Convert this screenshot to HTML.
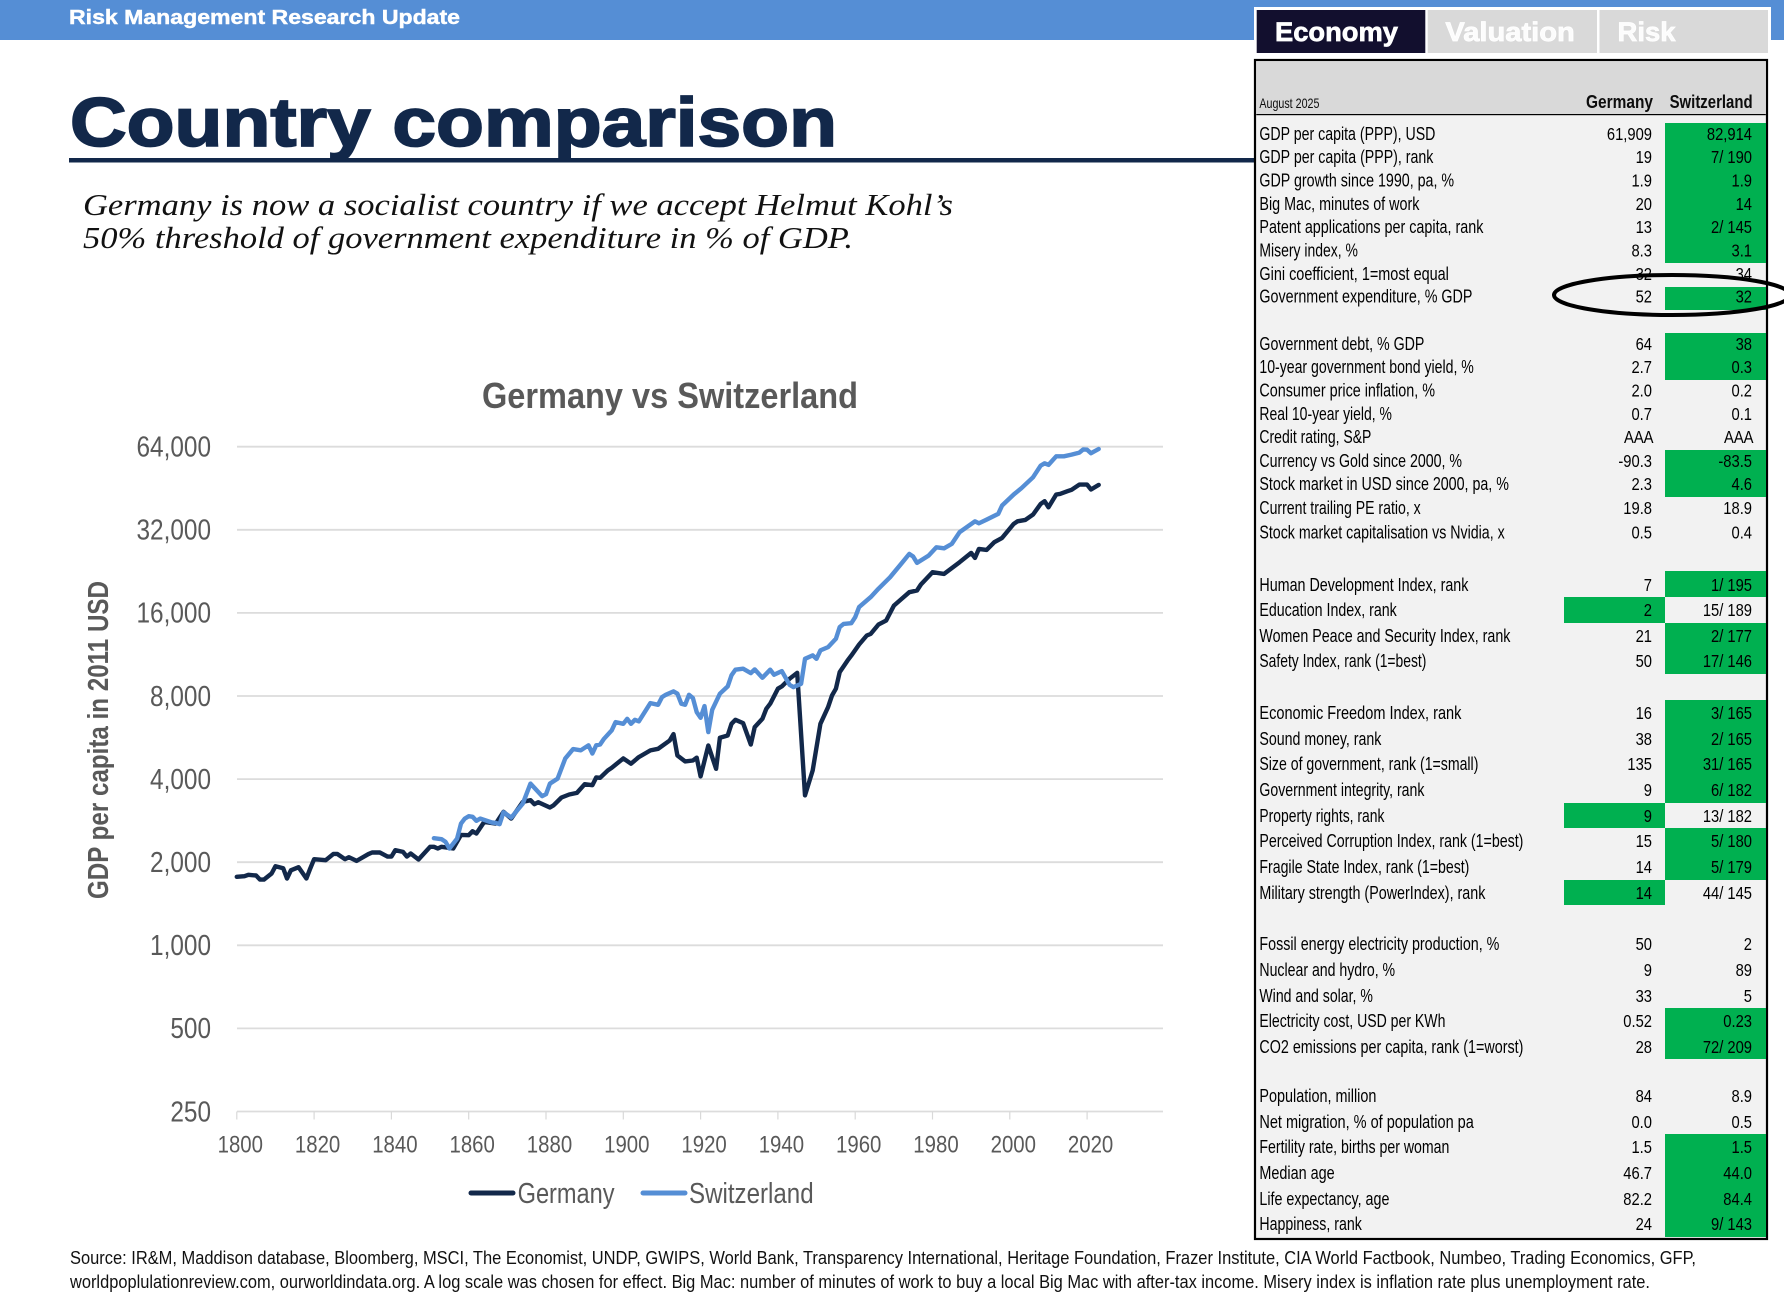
<!DOCTYPE html>
<html lang="en">
<head>
<meta charset="utf-8">
<title>Country comparison</title>
<style>
html,body{margin:0;padding:0;background:#fff;width:1784px;height:1301px;overflow:hidden}
svg{display:block}
text{font-family:"Liberation Sans",Arial,sans-serif}
.l{font-size:18px;fill:#000}
.v{font-size:18px;fill:#000;text-anchor:end;transform-box:fill-box;transform-origin:100% 50%;transform:scaleX(.82)}
.g{fill:#00b050}
.tab{font-size:27px;font-weight:bold;stroke:#fff;stroke-width:.7px}
.yt{font-size:29px;fill:#595959}
</style>
</head>
<body>
<svg xmlns="http://www.w3.org/2000/svg" width="1784" height="1301" viewBox="0 0 1784 1301">
<rect x="0" y="0" width="1784" height="40" fill="#558ed5"/>
<text x="69" y="24" font-size="20.5" font-weight="bold" fill="#fff" stroke="#fff" stroke-width=".45" textLength="391" lengthAdjust="spacingAndGlyphs">Risk Management Research Update</text>
<text x="70" y="146" font-size="69" font-weight="bold" fill="#12284a" stroke="#12284a" stroke-width="1.8" textLength="767" lengthAdjust="spacingAndGlyphs">Country comparison</text>
<rect x="69" y="158" width="1187" height="4.5" fill="#12284a"/>
<text x="83" y="215" font-size="31" font-style="italic" style="font-family:'Liberation Serif',serif" fill="#111" textLength="870" lengthAdjust="spacingAndGlyphs">Germany is now a socialist country if we accept Helmut Kohl’s</text>
<text x="83" y="248" font-size="31" font-style="italic" style="font-family:'Liberation Serif',serif" fill="#111" textLength="770" lengthAdjust="spacingAndGlyphs">50% threshold of government expenditure in % of GDP.</text>

<!-- tabs -->
<rect x="1254" y="7" width="517" height="47" fill="#fff"/>
<rect x="1256.7" y="10" width="168.6" height="43" fill="#120f2e"/>
<text class="tab" x="1275" y="41" fill="#fff" textLength="123" lengthAdjust="spacingAndGlyphs">Economy</text>
<rect x="1427.7" y="10" width="169.3" height="43" fill="#d9d9d9"/>
<text class="tab" x="1445.4" y="41" fill="#fff" fill-opacity=".92" textLength="129.4" lengthAdjust="spacingAndGlyphs">Valuation</text>
<rect x="1599.5" y="10" width="168.5" height="43" fill="#d9d9d9"/>
<text class="tab" x="1617.5" y="41" fill="#fff" fill-opacity=".92" textLength="58" lengthAdjust="spacingAndGlyphs">Risk</text>

<!-- table -->
<g>
<rect x="1255" y="60" width="512" height="1179" fill="#f2f2f2" stroke="#000" stroke-width="2.2"/>
<rect x="1256.3" y="61.3" width="509.5" height="53" fill="#d9d9d9"/>
<rect x="1256.3" y="114" width="509.5" height="1.2" fill="#000"/>
<text x="1259.4" y="108" font-size="14" fill="#0d0d0d" textLength="60" lengthAdjust="spacingAndGlyphs">August 2025</text>
<text x="1586" y="108" font-size="18.5" font-weight="bold" fill="#0d0d0d" textLength="67" lengthAdjust="spacingAndGlyphs">Germany</text>
<text x="1669.6" y="108" font-size="18.5" font-weight="bold" fill="#0d0d0d" textLength="83" lengthAdjust="spacingAndGlyphs">Switzerland</text>

<g>
<rect class="g" x="1665" y="123" width="101" height="140"/>
<rect class="g" x="1665" y="287" width="101" height="23"/>
<rect class="g" x="1665" y="333" width="101" height="47"/>
<rect class="g" x="1665" y="450" width="101" height="47"/>
<rect class="g" x="1665" y="571" width="101" height="26"/>
<rect class="g" x="1564" y="597" width="101" height="26"/>
<rect class="g" x="1665" y="623" width="101" height="51"/>
<rect class="g" x="1665" y="700" width="101" height="103"/>
<rect class="g" x="1564" y="803" width="101" height="25"/>
<rect class="g" x="1665" y="828" width="101" height="52"/>
<rect class="g" x="1564" y="880" width="101" height="25"/>
<rect class="g" x="1665" y="1008" width="101" height="51"/>
<rect class="g" x="1665" y="1134" width="101" height="103"/>
</g>

<text class="l" x="1259.4" y="140" textLength="176" lengthAdjust="spacingAndGlyphs">GDP per capita (PPP), USD</text><text class="v" x="1652" y="140">61,909</text><text class="v" x="1752" y="140">82,914</text>
<text class="l" x="1259.4" y="163" textLength="174" lengthAdjust="spacingAndGlyphs">GDP per capita (PPP), rank</text><text class="v" x="1652" y="163">19</text><text class="v" x="1752" y="163">7/ 190</text>
<text class="l" x="1259.4" y="186.5" textLength="194.7" lengthAdjust="spacingAndGlyphs">GDP growth since 1990, pa, %</text><text class="v" x="1652" y="186.5">1.9</text><text class="v" x="1752" y="186.5">1.9</text>
<text class="l" x="1259.4" y="210" textLength="160" lengthAdjust="spacingAndGlyphs">Big Mac, minutes of work</text><text class="v" x="1652" y="210">20</text><text class="v" x="1752" y="210">14</text>
<text class="l" x="1259.4" y="233" textLength="224" lengthAdjust="spacingAndGlyphs">Patent applications per capita, rank</text><text class="v" x="1652" y="233">13</text><text class="v" x="1752" y="233">2/ 145</text>
<text class="l" x="1259.4" y="256.7" textLength="98.5" lengthAdjust="spacingAndGlyphs">Misery index, %</text><text class="v" x="1652" y="256.7">8.3</text><text class="v" x="1752" y="256.7">3.1</text>
<text class="l" x="1259.4" y="280" textLength="189.5" lengthAdjust="spacingAndGlyphs">Gini coefficient, 1=most equal</text><text class="v" x="1652" y="280">32</text><text class="v" x="1752" y="280">34</text>
<text class="l" x="1259.4" y="302.7" textLength="213" lengthAdjust="spacingAndGlyphs">Government expenditure, % GDP</text><text class="v" x="1652" y="302.7">52</text><text class="v" x="1752" y="302.7">32</text>

<text class="l" x="1259.4" y="350" textLength="165" lengthAdjust="spacingAndGlyphs">Government debt, % GDP</text><text class="v" x="1652" y="350">64</text><text class="v" x="1752" y="350">38</text>
<text class="l" x="1259.4" y="373" textLength="214.4" lengthAdjust="spacingAndGlyphs">10-year government bond yield, %</text><text class="v" x="1652" y="373">2.7</text><text class="v" x="1752" y="373">0.3</text>
<text class="l" x="1259.4" y="396.5" textLength="175.6" lengthAdjust="spacingAndGlyphs">Consumer price inflation, %</text><text class="v" x="1652" y="396.5">2.0</text><text class="v" x="1752" y="396.5">0.2</text>
<text class="l" x="1259.4" y="420" textLength="132.5" lengthAdjust="spacingAndGlyphs">Real 10-year yield, %</text><text class="v" x="1652" y="420">0.7</text><text class="v" x="1752" y="420">0.1</text>
<text class="l" x="1259.4" y="443" textLength="112" lengthAdjust="spacingAndGlyphs">Credit rating, S&amp;P</text><text class="v" x="1653.5" y="443">AAA</text><text class="v" x="1753.5" y="443">AAA</text>
<text class="l" x="1259.4" y="467" textLength="202.6" lengthAdjust="spacingAndGlyphs">Currency vs Gold since 2000, %</text><text class="v" x="1652" y="467">-90.3</text><text class="v" x="1752" y="467">-83.5</text>
<text class="l" x="1259.4" y="490" textLength="249.5" lengthAdjust="spacingAndGlyphs">Stock market in USD since 2000, pa, %</text><text class="v" x="1652" y="490">2.3</text><text class="v" x="1752" y="490">4.6</text>
<text class="l" x="1259.4" y="514" textLength="161.3" lengthAdjust="spacingAndGlyphs">Current trailing PE ratio, x</text><text class="v" x="1652" y="514">19.8</text><text class="v" x="1752" y="514">18.9</text>
<text class="l" x="1259.4" y="538.5" textLength="245.3" lengthAdjust="spacingAndGlyphs">Stock market capitalisation vs Nvidia, x</text><text class="v" x="1652" y="538.5">0.5</text><text class="v" x="1752" y="538.5">0.4</text>

<text class="l" x="1259.4" y="591" textLength="209" lengthAdjust="spacingAndGlyphs">Human Development Index, rank</text><text class="v" x="1652" y="591">7</text><text class="v" x="1752" y="591">1/ 195</text>
<text class="l" x="1259.4" y="616" textLength="137.4" lengthAdjust="spacingAndGlyphs">Education Index, rank</text><text class="v" x="1652" y="616">2</text><text class="v" x="1752" y="616">15/ 189</text>
<text class="l" x="1259.4" y="642" textLength="251" lengthAdjust="spacingAndGlyphs">Women Peace and Security Index, rank</text><text class="v" x="1652" y="642">21</text><text class="v" x="1752" y="642">2/ 177</text>
<text class="l" x="1259.4" y="667" textLength="167" lengthAdjust="spacingAndGlyphs">Safety Index, rank (1=best)</text><text class="v" x="1652" y="667">50</text><text class="v" x="1752" y="667">17/ 146</text>

<text class="l" x="1259.4" y="719" textLength="202" lengthAdjust="spacingAndGlyphs">Economic Freedom Index, rank</text><text class="v" x="1652" y="719">16</text><text class="v" x="1752" y="719">3/ 165</text>
<text class="l" x="1259.4" y="745" textLength="122" lengthAdjust="spacingAndGlyphs">Sound money, rank</text><text class="v" x="1652" y="745">38</text><text class="v" x="1752" y="745">2/ 165</text>
<text class="l" x="1259.4" y="770" textLength="219" lengthAdjust="spacingAndGlyphs">Size of government, rank (1=small)</text><text class="v" x="1652" y="770">135</text><text class="v" x="1752" y="770">31/ 165</text>
<text class="l" x="1259.4" y="796" textLength="165" lengthAdjust="spacingAndGlyphs">Government integrity, rank</text><text class="v" x="1652" y="796">9</text><text class="v" x="1752" y="796">6/ 182</text>
<text class="l" x="1259.4" y="822" textLength="125" lengthAdjust="spacingAndGlyphs">Property rights, rank</text><text class="v" x="1652" y="822">9</text><text class="v" x="1752" y="822">13/ 182</text>
<text class="l" x="1259.4" y="847" textLength="264" lengthAdjust="spacingAndGlyphs">Perceived Corruption Index, rank (1=best)</text><text class="v" x="1652" y="847">15</text><text class="v" x="1752" y="847">5/ 180</text>
<text class="l" x="1259.4" y="873" textLength="210" lengthAdjust="spacingAndGlyphs">Fragile State Index, rank (1=best)</text><text class="v" x="1652" y="873">14</text><text class="v" x="1752" y="873">5/ 179</text>
<text class="l" x="1259.4" y="899" textLength="226" lengthAdjust="spacingAndGlyphs">Military strength (PowerIndex), rank</text><text class="v" x="1652" y="899">14</text><text class="v" x="1752" y="899">44/ 145</text>

<text class="l" x="1259.4" y="950" textLength="240" lengthAdjust="spacingAndGlyphs">Fossil energy electricity production, %</text><text class="v" x="1652" y="950">50</text><text class="v" x="1752" y="950">2</text>
<text class="l" x="1259.4" y="976" textLength="135.7" lengthAdjust="spacingAndGlyphs">Nuclear and hydro, %</text><text class="v" x="1652" y="976">9</text><text class="v" x="1752" y="976">89</text>
<text class="l" x="1259.4" y="1002" textLength="113.5" lengthAdjust="spacingAndGlyphs">Wind and solar, %</text><text class="v" x="1652" y="1002">33</text><text class="v" x="1752" y="1002">5</text>
<text class="l" x="1259.4" y="1027" textLength="186" lengthAdjust="spacingAndGlyphs">Electricity cost, USD per KWh</text><text class="v" x="1652" y="1027">0.52</text><text class="v" x="1752" y="1027">0.23</text>
<text class="l" x="1259.4" y="1053" textLength="264" lengthAdjust="spacingAndGlyphs">CO2 emissions per capita, rank (1=worst)</text><text class="v" x="1652" y="1053">28</text><text class="v" x="1752" y="1053">72/ 209</text>

<text class="l" x="1259.4" y="1102" textLength="117" lengthAdjust="spacingAndGlyphs">Population, million</text><text class="v" x="1652" y="1102">84</text><text class="v" x="1752" y="1102">8.9</text>
<text class="l" x="1259.4" y="1128" textLength="214.4" lengthAdjust="spacingAndGlyphs">Net migration, %  of population pa</text><text class="v" x="1652" y="1128">0.0</text><text class="v" x="1752" y="1128">0.5</text>
<text class="l" x="1259.4" y="1153" textLength="190" lengthAdjust="spacingAndGlyphs">Fertility rate, births per woman</text><text class="v" x="1652" y="1153">1.5</text><text class="v" x="1752" y="1153">1.5</text>
<text class="l" x="1259.4" y="1179" textLength="75.3" lengthAdjust="spacingAndGlyphs">Median age</text><text class="v" x="1652" y="1179">46.7</text><text class="v" x="1752" y="1179">44.0</text>
<text class="l" x="1259.4" y="1205" textLength="130" lengthAdjust="spacingAndGlyphs">Life expectancy, age</text><text class="v" x="1652" y="1205">82.2</text><text class="v" x="1752" y="1205">84.4</text>
<text class="l" x="1259.4" y="1230" textLength="102.4" lengthAdjust="spacingAndGlyphs">Happiness, rank</text><text class="v" x="1652" y="1230">24</text><text class="v" x="1752" y="1230">9/ 143</text>
<ellipse cx="1672" cy="295" rx="118" ry="20" fill="none" stroke="#000" stroke-width="4"/>
</g>

<!-- chart -->
<g id="chart">
<text x="482" y="408" font-size="36" font-weight="bold" fill="#595959" textLength="376" lengthAdjust="spacingAndGlyphs">Germany vs Switzerland</text>
<text transform="translate(108 740) rotate(-90)" text-anchor="middle" font-size="29" font-weight="bold" fill="#595959" textLength="318" lengthAdjust="spacingAndGlyphs">GDP per capita in 2011 USD</text>
<g id="grid"></g>
<g id="yLabels"></g>
<g id="xAxis"></g>
<g id="series"></g>
<g>
<line x1="471" y1="1193" x2="513" y2="1193" stroke="#12284a" stroke-width="5" stroke-linecap="round"/>
<text x="517.6" y="1203" font-size="29" fill="#595959" textLength="97" lengthAdjust="spacingAndGlyphs">Germany</text>
<line x1="643" y1="1193" x2="685" y2="1193" stroke="#558ed5" stroke-width="5" stroke-linecap="round"/>
<text x="689" y="1203" font-size="29" fill="#595959" textLength="124.6" lengthAdjust="spacingAndGlyphs">Switzerland</text>
</g>
</g>

<text x="70" y="1264" font-size="18.5" fill="#111" textLength="1626" lengthAdjust="spacingAndGlyphs">Source: IR&amp;M, Maddison database, Bloomberg, MSCI, The Economist, UNDP, GWIPS, World Bank, Transparency International, Heritage Foundation, Frazer Institute, CIA World Factbook, Numbeo, Trading Economics, GFP,</text>
<text x="70" y="1288" font-size="18.5" fill="#111" textLength="1580" lengthAdjust="spacingAndGlyphs">worldpoplulationreview.com, ourworldindata.org. A log scale was chosen for effect. Big Mac: number of minutes of work to buy a local Big Mac with after-tax income. Misery index is inflation rate plus unemployment rate.</text>
</svg>
<script>
const germanyYears = [1800,1802,1803,1805,1806,1807,1809,1810,1812,1813,1814,1816,1818,1819,1820,1823,1825,1826,1828,1829,
1831,1834,1835,1837,1839,1840,1841,1843,1844,1845,1847,1850,1851,1852,1853,1856,1858,1860,1861,1862,
1864,1867,1869,1871,1874,1876,1877,1878,1881,1882,1884,1886,1888,1890,1892,1893,1894,1896,1897,1900,
1902,1904,1907,1909,1912,1913,1914,1916,1918,1919,1920,1922,1924,1925,1927,1928,1929,1931,1933,1934,
1936,1937,1938,1940,1941,1943,1945,1947,1949,1951,1953,1954,1955,1956,1958,1959,1961,1963,1964,1966,
1968,1970,1972,1974,1976,1977,1980,1983,1987,1990,1991,1992,1994,1996,1998,2001,2002,2004,2006,2008,
2009,2010,2012,2013,2015,2016,2018,2020,2021,2023];
const germanyValues = [1770,1780,1800,1790,1730,1730,1820,1934,1902,1746,1870,1918,1746,1896,2050,2034,2144,2144,2050,2086,
2022,2138,2168,2168,2096,2096,2210,2180,2096,2150,2045,2274,2274,2242,2274,2242,2512,2506,2590,2540,
2800,2760,3044,2878,3308,3354,3244,3298,3156,3218,3430,3518,3566,3834,3802,4054,4044,4300,4396,4752,
4548,4804,5080,5152,5520,5824,4872,4636,4672,4780,4090,5296,4360,5648,5756,6344,6560,6380,5340,6172,
6616,7192,7500,8500,8668,9236,9708,3492,4300,6344,7292,8036,8500,9764,10752,11208,12288,13248,13424,14512,
15008,17008,17984,19008,19280,20272,22464,22160,24416,26384,25312,27280,27056,28848,29904,33616,34352,34752,36320,39712,
40608,38608,42944,43184,44176,44672,46656,46656,44800,46528];
const switzerlandYears = [1851,1853,1854,1855,1857,1858,1859,1860,1861,1862,1863,1866,1867,1868,1869,1871,1874,1876,1879,1880,
1881,1883,1885,1887,1889,1891,1892,1893,1894,1895,1897,1898,1900,1901,1902,1903,1904,1907,1909,1910,
1911,1913,1914,1915,1916,1917,1918,1919,1920,1921,1922,1923,1925,1927,1928,1929,1931,1933,1934,1936,
1938,1939,1941,1943,1944,1946,1947,1949,1950,1951,1953,1955,1956,1957,1959,1960,1961,1964,1966,1969,
1972,1974,1975,1976,1979,1981,1983,1985,1987,1991,1992,1994,1997,1998,2001,2003,2006,2008,2009,2010,
2012,2014,2016,2018,2019,2020,2021,2023];
const switzerlandValues = [2444,2422,2370,2242,2436,2760,2878,2936,2920,2824,2878,2784,2776,2746,3034,2902,3262,3854,3470,3526,
3854,4018,4752,5136,5088,5304,4952,5304,5340,5600,6004,6436,6344,6616,6344,6560,6472,7540,7436,7928,
8080,8312,8152,7500,7436,8080,7864,6992,6668,7352,5920,7132,8152,8668,9504,9960,10044,9684,9984,9312,
9960,9552,9848,8792,8620,8860,10908,11220,10908,11700,12032,12888,14208,14600,14680,15440,16796,18252,19560,21536,
24208,26176,25600,24272,25808,27664,27424,28448,31376,34352,33792,34848,36544,39184,42944,45264,49568,54656,55712,54992,
59056,59056,59904,60912,62576,62400,60624,62800];
const yTickValues = [64000,32000,16000,8000,4000,2000,1000,500,250];
const yTickLabels = ["64,000","32,000","16,000","8,000","4,000","2,000","1,000","500","250"];
const xTickYears = [1800,1820,1840,1860,1880,1900,1920,1940,1960,1980,2000,2020];

const SVG_NS = "http://www.w3.org/2000/svg";
function xScale(year){ return 236.8 + (year - 1800) * 3.865; }
function yScale(value){ return 446.7 + 83.1 * Math.log2(64000 / value); }
function node(tag, parent){ const el = document.createElementNS(SVG_NS, tag); parent.appendChild(el); return el; }
function linePath(years, values){
  return years.map(function(y, i){ return (i ? "L" : "M") + xScale(y).toFixed(1) + " " + yScale(values[i]).toFixed(1); }).join("");
}

const gridGroup = document.getElementById("grid");
const yLabelGroup = document.getElementById("yLabels");
yTickValues.forEach(function(v, i){
  const y = yScale(v);
  const gl = node("line", gridGroup);
  gl.setAttribute("x1", 237); gl.setAttribute("x2", 1163);
  gl.setAttribute("y1", y); gl.setAttribute("y2", y);
  gl.setAttribute("stroke", "#dcdcdc"); gl.setAttribute("stroke-width", "1.8");
  
  
  const t = node("text", yLabelGroup);
  t.setAttribute("class", "yt");
  t.setAttribute("text-anchor", "end");
  t.setAttribute("style", "transform-box:fill-box;transform-origin:100% 50%;transform:scaleX(.84)");
  t.setAttribute("x", 211); t.setAttribute("y", y + 9.8);
  t.textContent = yTickLabels[i];
  
  
});

const xGroup = document.getElementById("xAxis");
xTickYears.forEach(function(yr){
  const x = xScale(yr);
  const tk = node("line", xGroup);
  tk.setAttribute("x1", x); tk.setAttribute("x2", x);
  tk.setAttribute("y1", yScale(250)); tk.setAttribute("y2", yScale(250) + 8);
  tk.setAttribute("stroke", "#d9d9d9"); tk.setAttribute("stroke-width", "1.2");
  
  
  const t = node("text", xGroup);
  t.setAttribute("x", x + 3.5); t.setAttribute("y", 1152.5);
  t.setAttribute("text-anchor", "middle");
  t.setAttribute("font-size", "24");
  t.setAttribute("fill", "#595959");
  t.setAttribute("style", "transform-box:fill-box;transform-origin:50% 50%;transform:scaleX(.85)");
  t.textContent = String(yr);
  
  
});

const seriesGroup = document.getElementById("series");
const germanyLine = node("path", seriesGroup);
germanyLine.setAttribute("d", linePath(germanyYears, germanyValues));
germanyLine.setAttribute("fill", "none");
germanyLine.setAttribute("stroke", "#12284a");
germanyLine.setAttribute("stroke-width", "4.4");
germanyLine.setAttribute("stroke-linejoin", "round");
germanyLine.setAttribute("stroke-linecap", "round");


const switzerlandLine = node("path", seriesGroup);
switzerlandLine.setAttribute("d", linePath(switzerlandYears, switzerlandValues));
switzerlandLine.setAttribute("fill", "none");
switzerlandLine.setAttribute("stroke", "#558ed5");
switzerlandLine.setAttribute("stroke-width", "4.4");
switzerlandLine.setAttribute("stroke-linejoin", "round");
switzerlandLine.setAttribute("stroke-linecap", "round");


</script>
</body>
</html>
